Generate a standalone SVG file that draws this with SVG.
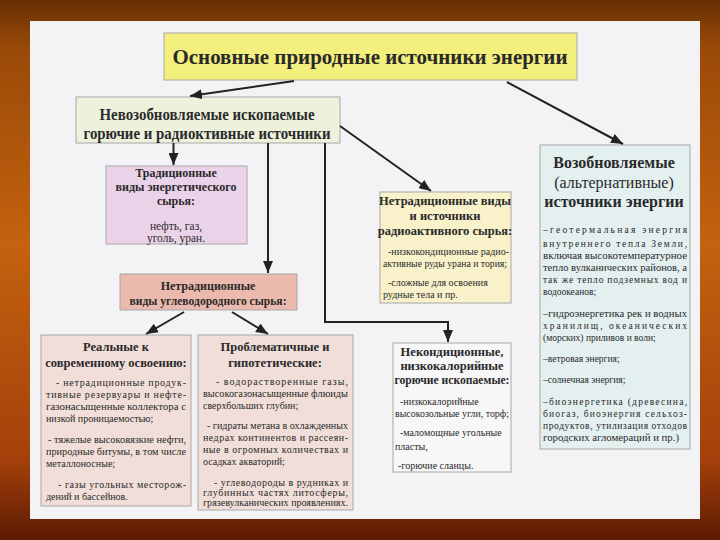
<svg xmlns="http://www.w3.org/2000/svg" width="720" height="540" viewBox="0 0 720 540">
<defs>
<linearGradient id="bg" x1="0" y1="0" x2="0" y2="1">
<stop offset="0" stop-color="#653004"/>
<stop offset="0.09" stop-color="#9a4a08"/>
<stop offset="0.45" stop-color="#c4620f"/>
<stop offset="0.85" stop-color="#a5400a"/>
<stop offset="1" stop-color="#5c1b03"/>
</linearGradient>
<marker id="ah" markerUnits="userSpaceOnUse" markerWidth="12" markerHeight="10" refX="12" refY="5" orient="auto">
<path d="M0,0 L12,5 L0,10 z" fill="#222"/>
</marker>
<style>
.box{stroke:#a8a8a8;stroke-width:1}
.t{font-family:"Liberation Serif","DejaVu Serif","Times New Roman",serif;fill:#2a2a2a}
.b{font-weight:bold}
.c{text-anchor:middle}
.s{font-size:10px}
.r{font-size:9.5px}
.con{fill:none;stroke:#222;stroke-width:2;marker-end:url(#ah)}
</style>
</defs>
<rect width="720" height="540" fill="url(#bg)"/>
<rect x="30" y="21" width="670" height="498" fill="#f3f3f5"/>

<g id="title">
<rect class="box" x="164" y="33" width="413" height="47" fill="#f3ef7c"/>
<text class="t b c" x="370" y="64" font-size="21" textLength="395" lengthAdjust="spacingAndGlyphs">Основные  природные  источники  энергии</text>
</g>

<g id="nonrenewable">
<rect class="box" x="76" y="97" width="264" height="46" fill="#eef2dd"/>
<text class="t b c" x="207" y="120" font-size="16" textLength="215" lengthAdjust="spacingAndGlyphs">Невозобновляемые ископаемые</text>
<text class="t b c" x="207" y="139" font-size="16" textLength="247" lengthAdjust="spacingAndGlyphs">горючие и радиоктивные источники</text>
</g>

<g id="traditional">
<rect class="box" x="106" y="166" width="141" height="78" fill="#ead3e8"/>
<text class="t b c" x="176" y="177" font-size="12">Традиционные</text>
<text class="t b c" x="176" y="191" font-size="12">виды энергетического</text>
<text class="t b c" x="176" y="205" font-size="12">сырья:</text>
<text class="t c" x="176" y="230" font-size="11.5">нефть, газ,</text>
<text class="t c" x="176" y="242" font-size="11.5">уголь, уран.</text>
</g>

<g id="hydrocarbon">
<rect class="box" x="120" y="274" width="177" height="36" fill="#ebb9ae"/>
<text class="t b c" x="208" y="290" font-size="12">Нетрадиционные</text>
<text class="t b c" x="208" y="305" font-size="12" textLength="157" lengthAdjust="spacingAndGlyphs">виды углеводородного сырья:</text>
</g>

<g id="radioactive">
<rect class="box" x="380" y="192" width="131" height="111" fill="#f8f1c9"/>
<text class="t b c" x="445" y="205" font-size="12.5">Нетрадиционные виды</text>
<text class="t b c" x="445" y="220" font-size="12.5">и источники</text>
<text class="t b c" x="445" y="235" font-size="12.5">радиоактивного сырья:</text>
<text class="t s" x="388" y="255" textLength="121" lengthAdjust="spacingAndGlyphs">-низкокондиционные радио-</text>
<text class="t s" x="383" y="267" textLength="124" lengthAdjust="spacingAndGlyphs">активные руды урана и тория;</text>
<text class="t s" x="388" y="286">-сложные для освоения</text>
<text class="t s" x="383" y="298">рудные тела и пр.</text>
</g>

<g id="renewable">
<rect class="box" x="540" y="145" width="150" height="304" fill="#e4eff0"/>
<text class="t b c" x="614" y="168" font-size="16">Возобновляемые</text>
<text class="t c" x="614" y="188" font-size="16">(альтернативные)</text>
<text class="t b c" x="614" y="207" font-size="16">источники энергии</text>
<text class="t r" x="543" y="233" textLength="144" lengthAdjust="spacing">–геотермальная   энергия</text>
<text class="t r" x="543" y="247" textLength="144" lengthAdjust="spacing">внутреннего тепла Земли,</text>
<text class="t r" x="543" y="259" textLength="144" lengthAdjust="spacingAndGlyphs">включая высокотемпературное</text>
<text class="t r" x="543" y="271" textLength="144" lengthAdjust="spacingAndGlyphs">тепло вулканических районов, а</text>
<text class="t r" x="543" y="283" textLength="144" lengthAdjust="spacing">так же тепло подземных вод и</text>
<text class="t r" x="543" y="295">водоокеанов;</text>
<text class="t r" x="543" y="317" textLength="144" lengthAdjust="spacingAndGlyphs">–гидроэнергетика рек и водных</text>
<text class="t r" x="543" y="329" textLength="144" lengthAdjust="spacing">хранилищ, океанических</text>
<text class="t r" x="543" y="341">(морских) приливов и волн;</text>
<text class="t r" x="543" y="362">–ветровая энергия;</text>
<text class="t r" x="543" y="383">–солнечная энергия;</text>
<text class="t r" x="543" y="405" textLength="144" lengthAdjust="spacing">–биоэнергетика  (древесина,</text>
<text class="t r" x="543" y="417" textLength="144" lengthAdjust="spacing">биогаз, биоэнергия сельхоз-</text>
<text class="t r" x="543" y="429" textLength="144" lengthAdjust="spacing">продуктов, утилизация отходов</text>
<text class="t r" x="543" y="441" textLength="136" lengthAdjust="spacingAndGlyphs">городских агломераций и пр.)</text>
</g>

<g id="real">
<rect class="box" x="41" y="335" width="150" height="171" fill="#f1ded9"/>
<text class="t b c" x="116" y="351" font-size="12.5">Реальные к</text>
<text class="t b c" x="116" y="367" font-size="12.5">современному освоению:</text>
<text class="t s" x="56" y="386" textLength="130" lengthAdjust="spacing">- нетрадиционные продук-</text>
<text class="t s" x="46" y="398" textLength="140" lengthAdjust="spacing">тивные резервуары и нефте-</text>
<text class="t s" x="46" y="410" textLength="140" lengthAdjust="spacingAndGlyphs">газонасыщенные коллектора с</text>
<text class="t s" x="46" y="422">низкой проницаемостью;</text>
<text class="t s" x="48" y="443" textLength="138" lengthAdjust="spacingAndGlyphs">- тяжелые высоковязкие нефти,</text>
<text class="t s" x="46" y="455" textLength="140" lengthAdjust="spacingAndGlyphs">природные битумы, в том числе</text>
<text class="t s" x="46" y="467">металлоносные;</text>
<text class="t s" x="58" y="488" textLength="128" lengthAdjust="spacing">- газы угольных месторож-</text>
<text class="t s" x="46" y="500">дений и бассейнов.</text>
</g>

<g id="problematic">
<rect class="box" x="198" y="335" width="155" height="175" fill="#f1ded9"/>
<text class="t b c" x="275" y="351" font-size="12.5">Проблематичные и</text>
<text class="t b c" x="275" y="367" font-size="12.5">гипотетические:</text>
<text class="t s" x="216" y="385" textLength="132" lengthAdjust="spacing">- водорастворенные газы,</text>
<text class="t s" x="203" y="397" textLength="145" lengthAdjust="spacingAndGlyphs">высокогазонасыщенные флюиды</text>
<text class="t s" x="203" y="409">сверхбольших глубин;</text>
<text class="t s" x="207" y="429" textLength="141" lengthAdjust="spacingAndGlyphs">- гидраты метана в охлажденных</text>
<text class="t s" x="203" y="441" textLength="145" lengthAdjust="spacing">недрах континентов и рассеян-</text>
<text class="t s" x="203" y="453" textLength="145" lengthAdjust="spacing">ные в огромных количествах и</text>
<text class="t s" x="203" y="465">осадках акваторий;</text>
<text class="t s" x="214" y="486" textLength="134" lengthAdjust="spacing">- углеводороды в рудниках и</text>
<text class="t s" x="203" y="496" textLength="145" lengthAdjust="spacing">глубинных частях литосферы,</text>
<text class="t s" x="203" y="506" textLength="145" lengthAdjust="spacingAndGlyphs">грязевулканических проявлениях.</text>
</g>

<g id="lowgrade">
<rect class="box" x="393" y="343" width="118" height="129" fill="#f7f7f7"/>
<text class="t b c" x="452" y="356" font-size="12.5">Некондиционные,</text>
<text class="t b c" x="452" y="370" font-size="12.5">низкокалорийные</text>
<text class="t b c" x="452" y="384" font-size="12.5" textLength="115" lengthAdjust="spacingAndGlyphs">горючие ископаемые:</text>
<text class="t s" x="400" y="405">-низкокалорийные</text>
<text class="t s" x="395" y="417" textLength="114" lengthAdjust="spacingAndGlyphs">высокозольные угли, торф;</text>
<text class="t s" x="400" y="436">-маломощные угольные</text>
<text class="t s" x="395" y="450">пласты,</text>
<text class="t s" x="398" y="469">-горючие сланцы.</text>
</g>

<g id="connectors">
<path class="con" d="M294,81 L190,96"/>
<path class="con" d="M507,82 L623,144"/>
<path class="con" d="M173.5,143 L173.5,165"/>
<path class="con" d="M268,143 L268,273"/>
<path class="con" d="M325,143 L325,322 L448,322 L448,342"/>
<path class="con" d="M340,126 L431,191"/>
<path class="con" d="M184,312 L146,334"/>
<path class="con" d="M232,312 L268,334"/>
</g>
</svg>
